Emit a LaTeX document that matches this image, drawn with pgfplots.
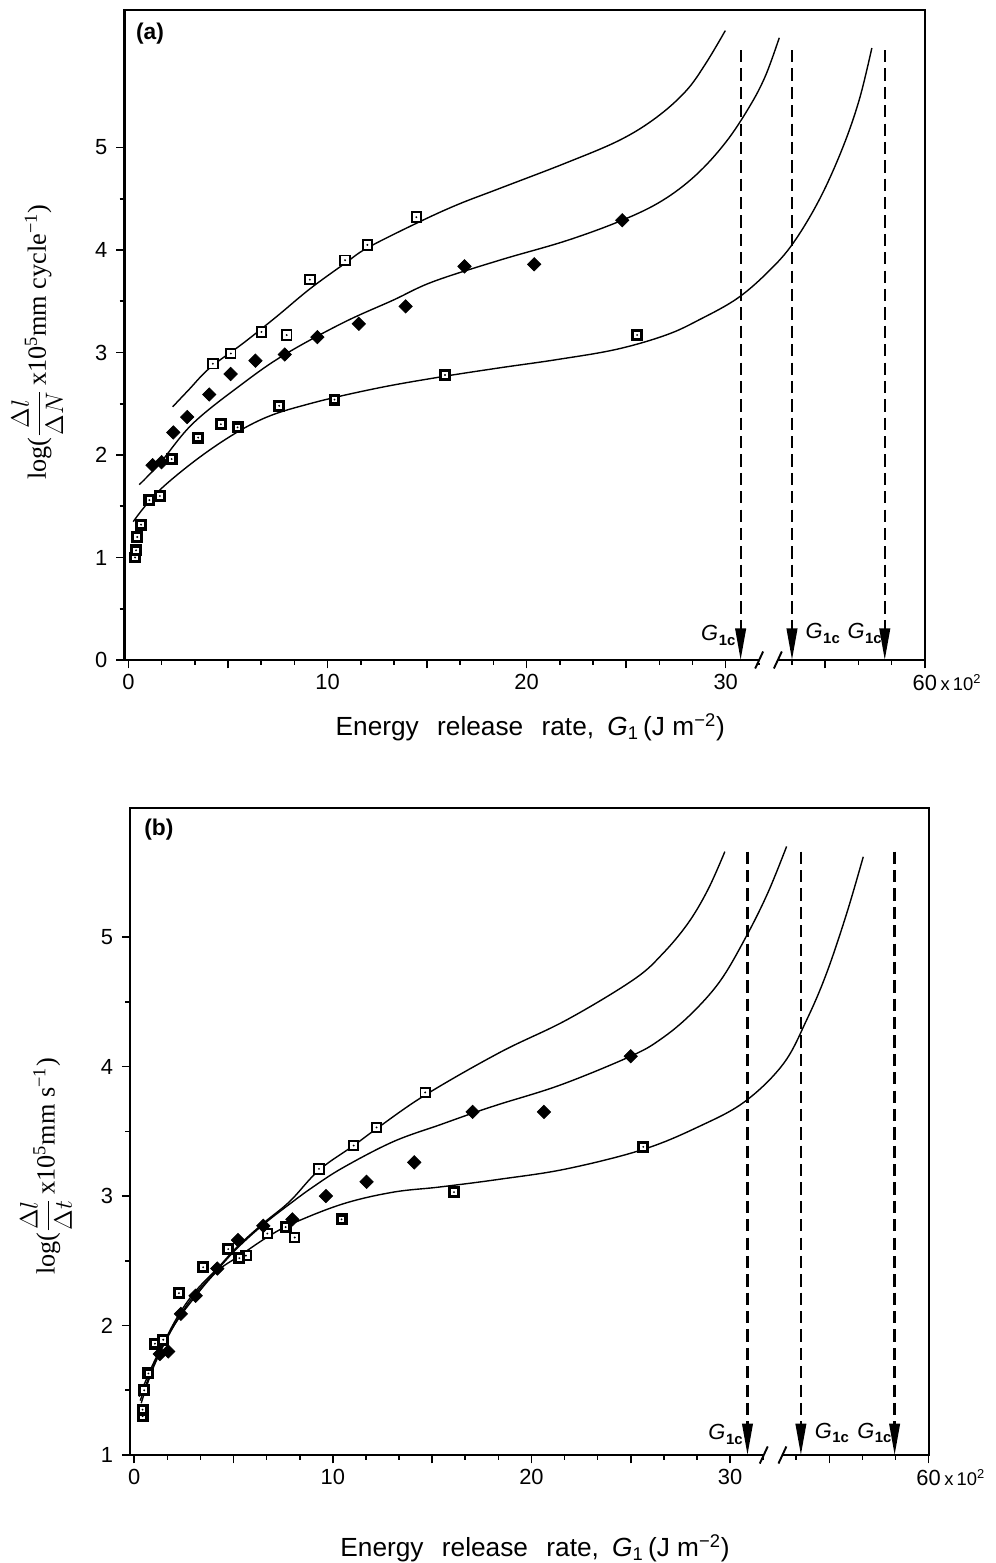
\documentclass[border=0pt]{standalone}
\usepackage{fontspec}
\setmainfont{Liberation Sans}
\newfontfamily\serif{Liberation Serif}
\usepackage{pgfplots}
\pgfplotsset{compat=1.18}
\usetikzlibrary{arrows.meta}

% square with a dot in the middle
\pgfdeclareplotmark{sqdot}{%
  \pgfpathrectangle{\pgfqpoint{-\pgfplotmarksize}{-\pgfplotmarksize}}{\pgfqpoint{2\pgfplotmarksize}{2\pgfplotmarksize}}%
  \pgfusepathqfillstroke
  \pgfscope\pgfsetfillcolor{black}%
  \pgfpathcircle{\pgfpointorigin}{0.6pt}\pgfusepathqfill
  \endpgfscope}

\newcommand{\Gic}{\textit{G}\kern0.3pt\raisebox{-0.4ex}{\fontsize{8.5}{8.5}\selectfont\bfseries 1c}}

\tikzset{glab/.style={inner sep=0pt, font=\fontsize{12.5}{13}\selectfont}}

\pgfplotsset{
  panel/.style={
    scale only axis, clip=false,
    xmin=-0.2, xmax=40,
    xtick={0,5,...,40},
    xticklabels={0,,10,,20,,30,,60\rlap{\,\fontsize{10.5}{11}\selectfont x\,10\textsuperscript{2}}},
    minor x tick num=2,
    tick pos=left, tick align=outside,
    major tick length=4.8pt, minor tick length=2.8pt,
    every tick/.style={black, line width=0.9pt},
    axis line style={line width=1.2pt},
    ticklabel style={font=\fontsize{12.5}{14}\selectfont},
    yticklabel style={xshift=-1.5pt},
    /pgf/number format/assume math mode=true,
    label style={font=\fontsize{15}{17}\selectfont},
  },
  open/.style={only marks, mark=sqdot, mark size=2.7pt, mark options={fill=white, draw=black, line width=1.1pt}},
  thick/.style={only marks, mark=sqdot, mark size=2.5pt, mark options={fill=white, draw=black, line width=1.8pt}},
  dia/.style={only marks, mark=square*, mark size=2.7pt, mark options={rotate=45, fill=black, draw=black}},
  fit/.style={black, line width=0.8pt, smooth, tension=0.6, no marks},
  gline/.style={black, line width=1.3pt, dash pattern=on 7pt off 3.5pt, -{Triangle[length=18pt,width=6pt]}},
}

\begin{document}
\begin{tikzpicture}
\path[use as bounding box] (0,0) rectangle (20,-31.386);

%% ---------------- panel (a)
\begin{axis}[panel,
  at={(2.5cm,-13.253cm)}, anchor=south west,
  width=16.07cm, height=13.05cm,
  ymin=0, ymax=6.34,
  ytick={0,1,2,3,4,5}, minor y tick num=1,
  ylabel={{\serif\fontsize{15}{17}\selectfont log(}$\displaystyle\frac{\Delta l}{\Delta N}${\serif\fontsize{15}{17}\selectfont\,x10\textsuperscript{5}mm cycle\textsuperscript{−1})}},
  ylabel style={at={(axis description cs:-0.109,0.489)}, anchor=center},
  xlabel={Energy\hspace{0.7em}release\hspace{0.7em}rate,\hspace{0.5em}\textit{G}\textsubscript{1}\,(J m\textsuperscript{−2})},
  xlabel style={at={(axis description cs:0.507,-0.103)}, anchor=center},
]
\addplot[fit] coordinates {(2.22,2.47) (3.0,2.63) (4.09,2.85) (5.76,3.09) (7.44,3.35) (9.11,3.62) (10.88,3.87) (12.0,4.02) (14.46,4.26) (16.5,4.44) (18.64,4.60) (21.99,4.85) (24.66,5.07) (26.5,5.29) (28.0,5.55) (29.0,5.82) (29.98,6.14)};
\addplot[fit] coordinates {(0.54,1.71) (1.58,1.92) (3.25,2.31) (5.76,2.70) (7.85,2.98) (10.78,3.29) (13.29,3.51) (15.29,3.69) (18.64,3.90) (21.99,4.09) (24.8,4.29) (26.8,4.48) (28.5,4.73) (30.0,5.05) (31.2,5.40) (32.0,5.70) (32.69,6.07)};
\addplot[fit] coordinates {(0.24,1.35) (1.58,1.66) (4.09,2.05) (6.6,2.34) (9.1,2.50) (12.45,2.65) (15.63,2.76) (18.64,2.85) (21.5,2.93) (24.5,3.03) (27.0,3.17) (28.68,3.32) (30.6,3.53) (32.2,3.80) (33.4,4.07) (34.7,4.49) (35.84,4.98) (36.7,5.46) (37.34,5.97)};
\addplot[open] coordinates {(4.24,2.89) (5.14,2.99) (6.68,3.20) (7.95,3.17) (9.11,3.71) (10.88,3.90) (12.0,4.05) (14.46,4.32)};
\addplot[thick] coordinates {(0.33,1.00) (0.38,1.07) (0.44,1.20) (0.63,1.32) (1.05,1.56) (1.58,1.60) (2.17,1.96) (3.50,2.17) (4.64,2.30) (5.48,2.27) (7.57,2.48) (10.35,2.54) (15.9,2.78) (25.55,3.17)};
\addplot[dia] coordinates {(1.21,1.90) (1.66,1.93) (2.25,2.22) (2.95,2.37) (4.06,2.59) (5.13,2.79) (6.38,2.92) (7.85,2.98) (9.49,3.15) (11.57,3.28) (13.92,3.45) (16.88,3.84) (20.38,3.86) (24.8,4.29)};
%% critical values
\addplot[gline] coordinates {(30.75,5.95) (30.75,0)};
\addplot[gline] coordinates {(33.33,5.95) (33.33,0)};
\addplot[gline] coordinates {(37.99,5.95) (37.99,0)};
\node[glab, anchor=east] at (axis cs:30.5,0.24) {\Gic};
\node[glab, anchor=west] at (axis cs:34.0,0.26) {\Gic};
\node[glab, anchor=east] at (axis cs:37.85,0.26) {\Gic};
%% axis break
\draw[white, line width=4pt] (axis cs:31.68,0) -- (axis cs:32.62,0);
\draw[black, line width=1.1pt] (axis cs:31.48,-0.083) -- (axis cs:31.88,0.083);
\draw[black, line width=1.1pt] (axis cs:32.42,-0.083) -- (axis cs:32.82,0.083);
\node[font=\bfseries\fontsize{13}{14}\selectfont] at (axis cs:1.08,6.11) {(a)};
\end{axis}

%% ---------------- panel (b)
\begin{axis}[panel,
  at={(2.6165cm,-29.217cm)}, anchor=south west,
  width=16.03cm, height=13.0cm,
  ymin=1, ymax=6,
  ytick={1,2,3,4,5}, minor y tick num=1,
  ylabel={{\serif\fontsize{15}{17}\selectfont log(}$\displaystyle\frac{\Delta l}{\Delta t}${\serif\fontsize{15}{17}\selectfont\,x10\textsuperscript{5}mm s\textsuperscript{−1})}},
  ylabel style={at={(axis description cs:-0.1056,0.4456)}, anchor=center},
  xlabel={Energy\hspace{0.7em}release\hspace{0.7em}rate,\hspace{0.5em}\textit{G}\textsubscript{1}\,(J m\textsuperscript{−2})},
  xlabel style={at={(axis description cs:0.507,-0.1436)}, anchor=center},
]
\addplot[fit] coordinates {(0.3,1.42) (1.0,1.70) (2.0,2.02) (3.0,2.25) (4.18,2.44) (5.2,2.61) (6.5,2.79) (7.84,2.96) (9.3,3.20) (11.05,3.39) (12.2,3.52) (14.65,3.78) (18.42,4.11) (21.77,4.36) (25.13,4.67) (26.6,4.87) (27.9,5.11) (28.9,5.37) (29.74,5.66)};
\addplot[fit] coordinates {(0.35,1.40) (1.0,1.69) (2.0,2.0) (3.0,2.23) (4.18,2.43) (5.2,2.60) (6.5,2.78) (7.84,2.94) (9.0,3.07) (10.52,3.22) (13.04,3.42) (15.39,3.55) (17.04,3.64) (18.41,3.71) (21.5,3.86) (25.0,4.08) (26.5,4.21) (28.0,4.40) (29.5,4.66) (30.8,5.0) (31.9,5.34) (32.85,5.70)};
\addplot[fit] coordinates {(0.25,1.45) (1.0,1.72) (2.0,2.0) (3.0,2.21) (4.18,2.42) (5.32,2.54) (6.67,2.68) (8.0,2.79) (10.52,2.94) (13.04,3.03) (15.39,3.07) (18.41,3.13) (21.77,3.21) (25.63,3.36) (28.48,3.54) (30.75,3.73) (32.68,4.02) (33.86,4.36) (34.86,4.72) (35.87,5.18) (36.71,5.62)};
\addplot[open] coordinates {(5.62,2.54) (6.70,2.71) (8.08,2.68) (9.30,3.21) (11.05,3.39) (12.2,3.53) (14.65,3.80)};
\addplot[thick] coordinates {(0.42,1.30) (0.42,1.35) (0.50,1.50) (0.71,1.63) (1.04,1.86) (1.46,1.89) (2.25,2.25) (3.47,2.45) (4.73,2.59) (5.29,2.52) (7.62,2.76) (10.44,2.82) (16.10,3.03) (25.63,3.38)};
\addplot[dia] coordinates {(1.29,1.78) (1.71,1.80) (2.35,2.09) (3.09,2.23) (4.18,2.44) (5.22,2.66) (6.5,2.77) (7.96,2.82) (9.65,3.0) (11.7,3.11) (14.1,3.26) (17.04,3.65) (20.63,3.65) (25.0,4.08)};
\addplot[gline] coordinates {(30.88,5.66) (30.88,1)};
\addplot[gline] coordinates {(33.57,5.66) (33.57,1)};
\addplot[gline] coordinates {(38.29,5.66) (38.29,1)};
\node[glab, anchor=east] at (axis cs:30.65,1.16) {\Gic};
\node[glab, anchor=west] at (axis cs:34.25,1.17) {\Gic};
\node[glab, anchor=east] at (axis cs:38.15,1.17) {\Gic};
\draw[white, line width=4pt] (axis cs:31.7,1) -- (axis cs:32.64,1);
\draw[black, line width=1.1pt] (axis cs:31.5,0.934) -- (axis cs:31.9,1.066);
\draw[black, line width=1.1pt] (axis cs:32.44,0.934) -- (axis cs:32.84,1.066);
\node[font=\bfseries\fontsize{13}{14}\selectfont] at (axis cs:1.24,5.83) {(b)};
\end{axis}
\end{tikzpicture}
\end{document}
